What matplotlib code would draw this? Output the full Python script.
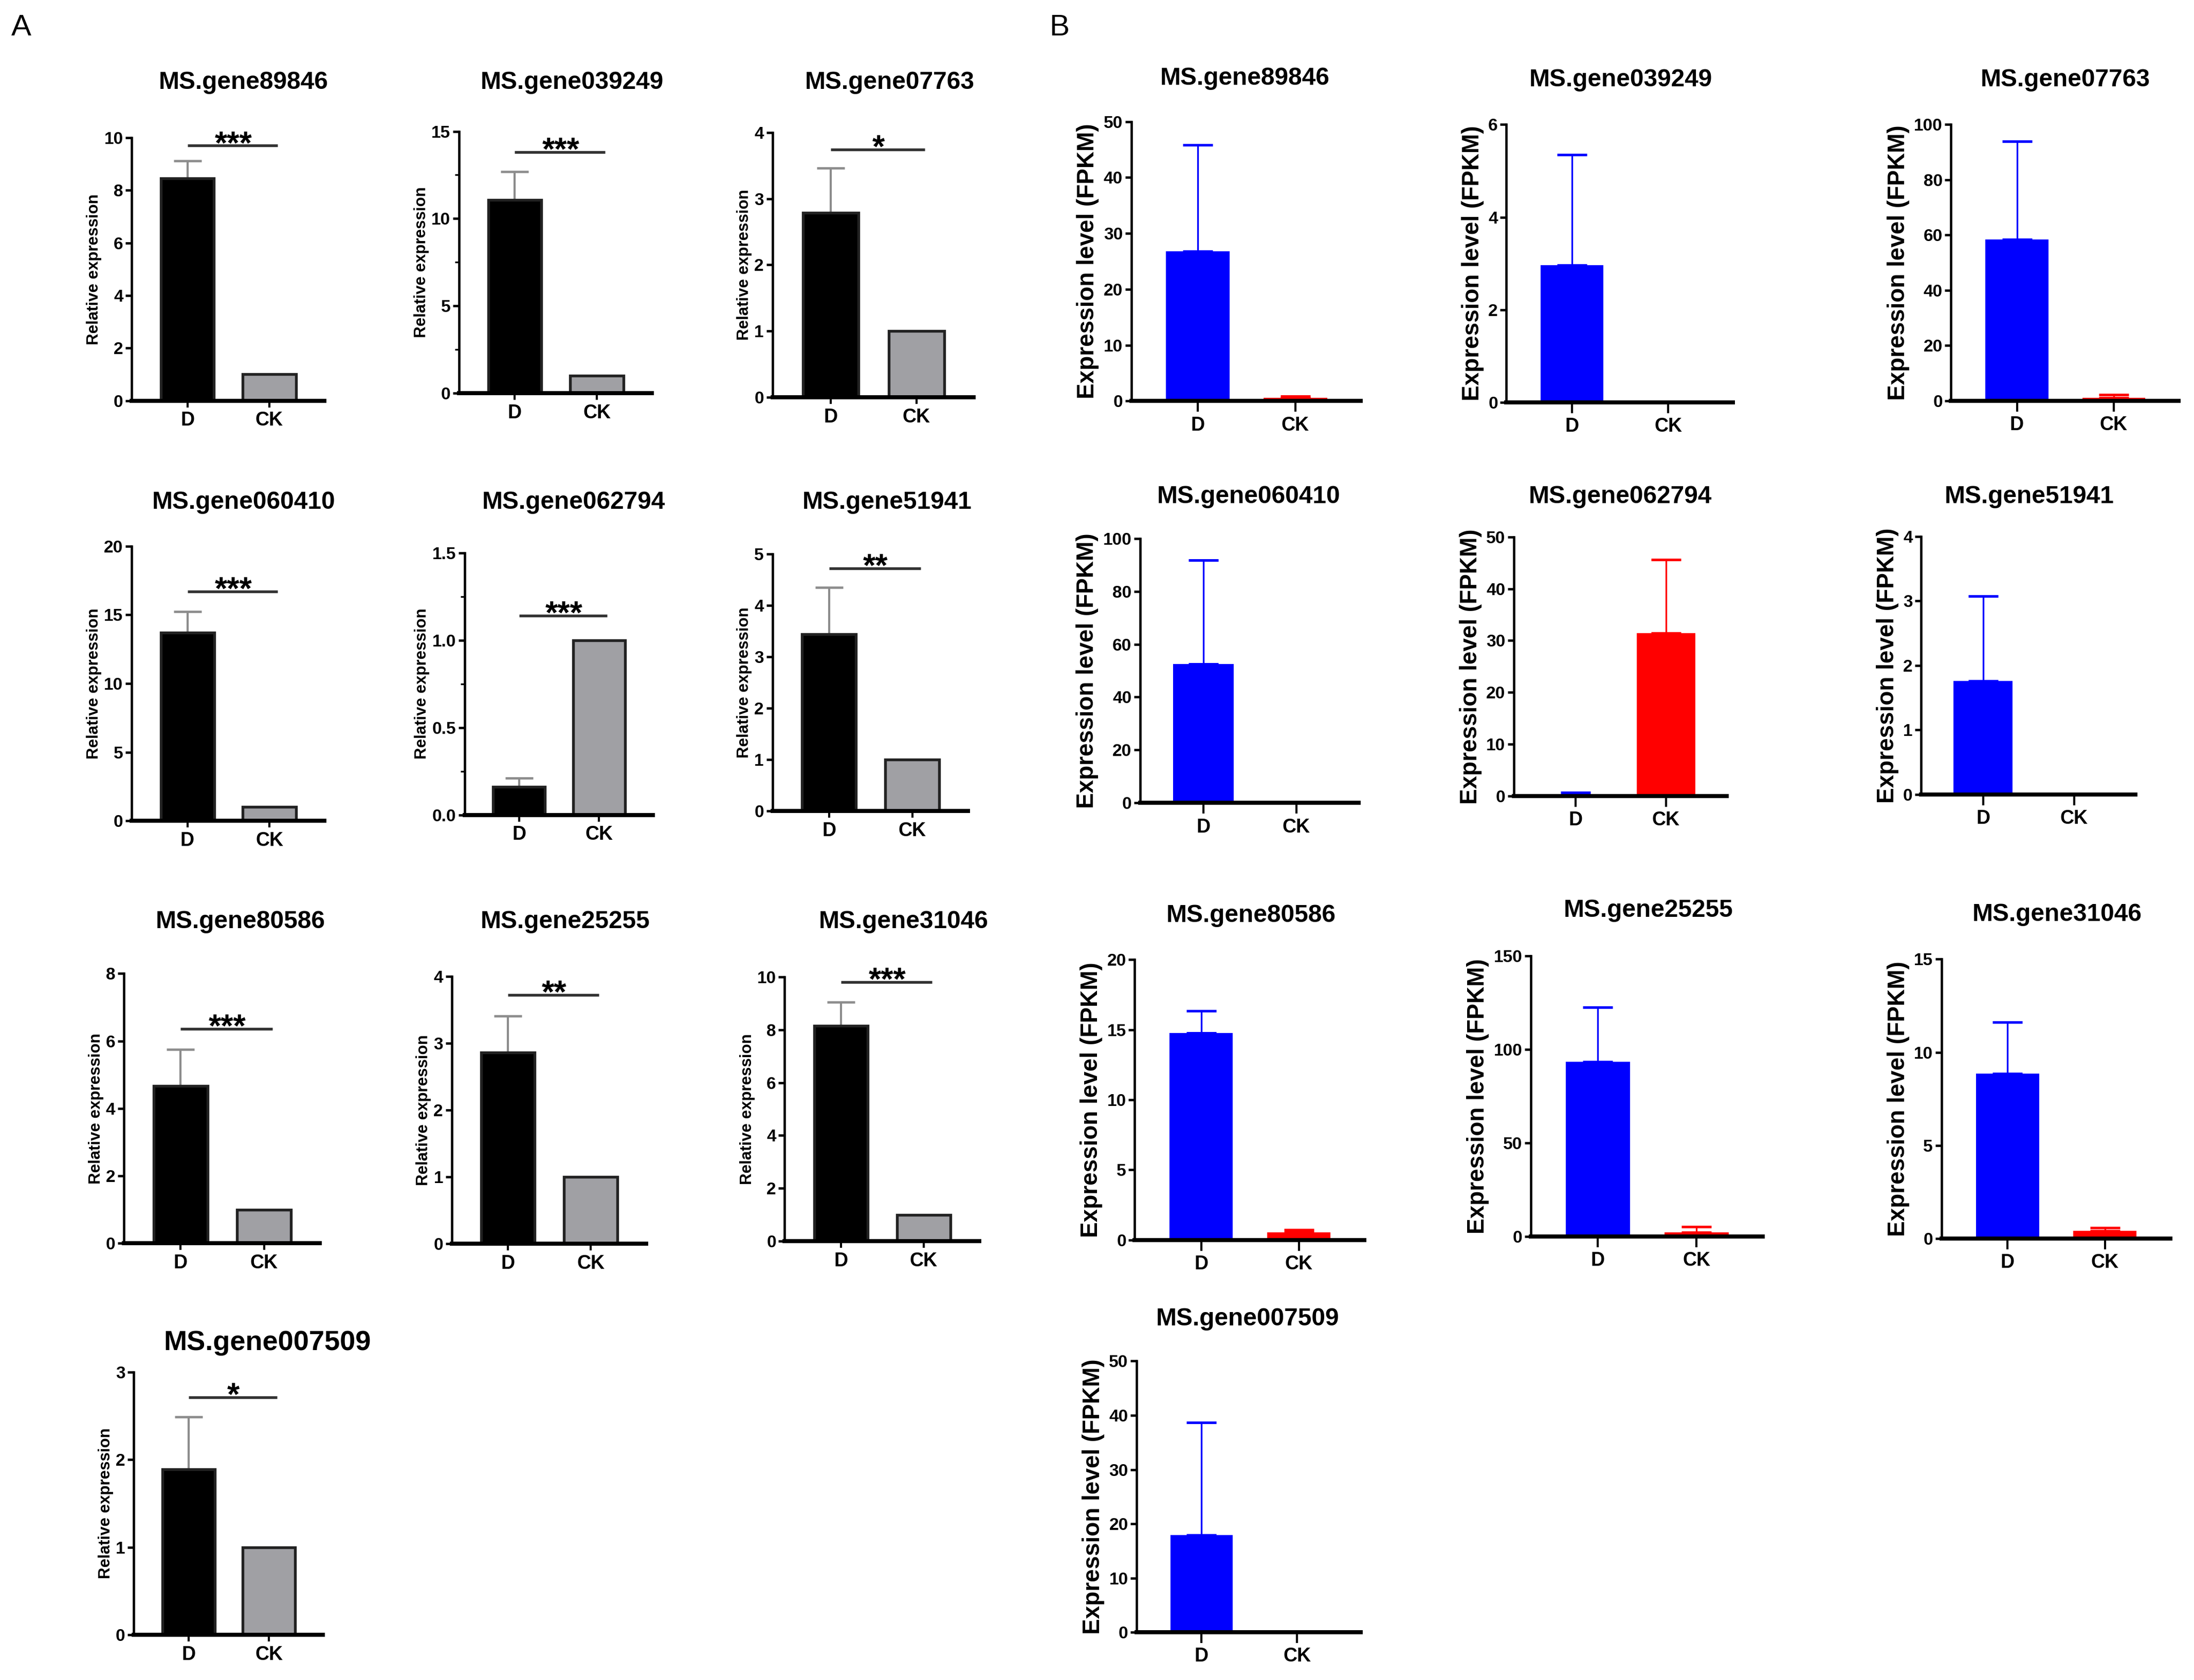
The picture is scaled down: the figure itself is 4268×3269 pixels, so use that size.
import matplotlib
matplotlib.use("Agg")
import matplotlib.pyplot as plt
from matplotlib.ticker import MultipleLocator

plt.rcParams['font.family'] = ['Liberation Sans', 'DejaVu Sans']

genes = ['MS.gene89846', 'MS.gene039249', 'MS.gene07763',
         'MS.gene060410', 'MS.gene062794', 'MS.gene51941',
         'MS.gene80586', 'MS.gene25255', 'MS.gene31046',
         'MS.gene007509']
groups = ['D', 'CK']

# A: qRT-PCR relative expression (CK = 1)
qpcr_d = [8.45, 11.06, 2.79, 13.72, 0.16, 3.44, 4.67, 2.86, 8.15, 1.89]
qpcr_d_sd = [0.67, 1.62, 0.67, 1.54, 0.05, 0.91, 1.08, 0.55, 0.89, 0.60]
qpcr_ck = [1.0, 1.0, 1.0, 1.0, 1.0, 1.0, 1.0, 1.0, 1.0, 1.0]
qpcr_ymax = [10, 15, 4, 20, 1.5, 5, 8, 4, 10, 3]
qpcr_ystep = [2, 5, 1, 5, 0.5, 1, 2, 1, 2, 1]
qpcr_minor = {1: 2.5, 4: 0.25}
qpcr_sig = ['***', '***', '*', '***', '***', '**', '***', '**', '***', '*']
qpcr_sig_y = [9.7, 13.8, 3.74, 16.7, 1.14, 4.72, 6.36, 3.72, 9.8, 2.71]

# B: RNA-seq FPKM
fpkm_d = [26.8, 2.96, 58.4, 52.5, 0.2, 1.76, 14.77, 93.5, 8.87, 17.9]
fpkm_d_sd = [19.0, 2.39, 35.5, 39.3, 0.46, 1.31, 1.56, 28.9, 2.76, 20.8]
fpkm_ck = [0.6, 0.03, 1.07, 0.3, 31.4, 0.0, 0.53, 2.1, 0.4, 0.3]
fpkm_ck_sd = [0.25, 0.0, 1.03, 0.0, 14.2, 0.0, 0.18, 3.1, 0.17, 0.0]
fpkm_ymax = [50, 6, 100, 100, 50, 4, 20, 150, 15, 50]
fpkm_ystep = [10, 2, 20, 20, 10, 1, 5, 50, 5, 10]

# layout in page units (1568 x 1201): y-axis x, top, bottom, right end, title x, title y
W, H = 1568.0, 1201.0
layout_a = [
    (94.2, 98.5, 286.4, 231.7, 174, 59),
    (328, 93.9, 281, 466, 409, 59),
    (552, 94.7, 284, 696, 636, 59),
    (94, 390.5, 586.8, 232, 174, 359),
    (332, 395.2, 582.5, 466.5, 410, 359),
    (552, 396.2, 579.7, 691.8, 634, 359),
    (88.6, 696, 888.8, 228.6, 172, 659),
    (322.8, 698, 889.2, 461.8, 404, 659),
    (560.8, 698.4, 887.3, 699.8, 645.6, 659),
    (95.6, 980.9, 1168.7, 230.8, 191, 960),
]
layout_b = [
    (808.5, 86.9, 286.7, 972.5, 889.7, 56),
    (1076.6, 89, 287.7, 1238.5, 1158.4, 57),
    (1394.4, 89, 286.4, 1557, 1476, 57),
    (814.9, 384.9, 574, 970.9, 892.4, 355),
    (1082, 383.9, 569, 1234, 1157.8, 355),
    (1373, 383.4, 568, 1526, 1450.5, 355),
    (811, 686, 886.4, 975, 894, 654.6),
    (1094, 683.3, 883.9, 1259.8, 1178, 651),
    (1387.5, 685.7, 885.4, 1551, 1470, 653.7),
    (812.4, 973, 1166.9, 972.6, 891.5, 943),
]


def make_axes(fig, box):
    x0, top, bottom, right = box[:4]
    return fig.add_axes([x0 / W, 1 - bottom / H, (right - x0) / W, (bottom - top) / H])


def style_axes(ax, ymax, step, xtick_len):
    for s in ['top', 'right']:
        ax.spines[s].set_visible(False)
    ax.spines['left'].set_linewidth(1.1)
    ax.spines['bottom'].set_linewidth(1.9)
    ax.set_xlim(-0.68, 1.67)
    ax.set_ylim(0, ymax)
    n = int(round(ymax / step))
    ticks = [step * k for k in range(n + 1)]
    fmt = '%.1f' if step < 1 else '%d'
    ax.set_yticks(ticks, [fmt % t for t in ticks], fontsize=8, fontweight='bold')
    ax.set_xticks([0, 1], groups, fontsize=9, fontweight='bold')
    ax.tick_params(axis='y', direction='out', length=3, width=1.1, pad=1)
    ax.tick_params(axis='x', direction='out', length=xtick_len, width=1.0, pad=2)


def draw_qpcr(fig, i):
    ax = make_axes(fig, layout_a[i])
    ax.bar([0, 1], [qpcr_d[i], qpcr_ck[i]], width=0.65, color=['black', '#a0a0a4'],
           edgecolor='#222222', linewidth=1.3, zorder=2)
    ax.errorbar(0, qpcr_d[i], yerr=[[0], [qpcr_d_sd[i]]], fmt='none', ecolor='#8c8c8c',
                elinewidth=1.0, capsize=6.5, capthick=1.1, zorder=1)
    style_axes(ax, qpcr_ymax[i], qpcr_ystep[i], 3)
    if i in qpcr_minor:
        ax.yaxis.set_minor_locator(MultipleLocator(qpcr_minor[i]))
        ax.tick_params(axis='y', which='minor', length=2, width=0.8)
    ax.set_ylabel('Relative expression', fontsize=7.5, fontweight='bold', labelpad=1)
    y = qpcr_sig_y[i]
    ax.plot([0.0, 1.1], [y, y], color='#333333', lw=1.3, solid_capstyle='butt')
    ax.annotate(qpcr_sig[i], (0.56, y), xytext=(0, -3.5), textcoords='offset points',
                ha='center', va='baseline', fontsize=15, fontweight='bold')
    tx, ty = layout_a[i][4:]
    fs = 13 if i == 9 else 11.5
    fig.text(tx / W, 1 - ty / H, genes[i], ha='center', va='center',
             fontsize=fs, fontweight='bold')


def draw_fpkm(fig, i):
    ax = make_axes(fig, layout_b[i])
    ax.bar([0, 1], [fpkm_d[i], fpkm_ck[i]], width=0.65, color=['#0000ff', '#ff0000'],
           linewidth=0, zorder=2)
    ax.errorbar(0, fpkm_d[i], yerr=[[0], [fpkm_d_sd[i]]], fmt='none', ecolor='#0000ff',
                elinewidth=0.8, capsize=7, capthick=1.2, zorder=1)
    if fpkm_ck_sd[i] > 0:
        ax.errorbar(1, fpkm_ck[i], yerr=[[0], [fpkm_ck_sd[i]]], fmt='none', ecolor='#ff0000',
                    elinewidth=0.8, capsize=7, capthick=1.2, zorder=1)
    style_axes(ax, fpkm_ymax[i], fpkm_ystep[i], 5)
    ax.set_ylabel('Expression level (FPKM)', fontsize=11, fontweight='bold', labelpad=2)
    tx, ty = layout_b[i][4:]
    fig.text(tx / W, 1 - ty / H, genes[i], ha='center', va='center',
             fontsize=11.5, fontweight='bold')


fig = plt.figure(figsize=(4268 / 300, 3269 / 300), dpi=300)
for i in range(len(genes)):
    draw_qpcr(fig, i)
    draw_fpkm(fig, i)

fig.text(15 / W, 1 - 20 / H, 'A', fontsize=14, ha='center', va='center')
fig.text(757 / W, 1 - 20 / H, 'B', fontsize=14, ha='center', va='center')

fig.savefig('out.png', dpi=300)
